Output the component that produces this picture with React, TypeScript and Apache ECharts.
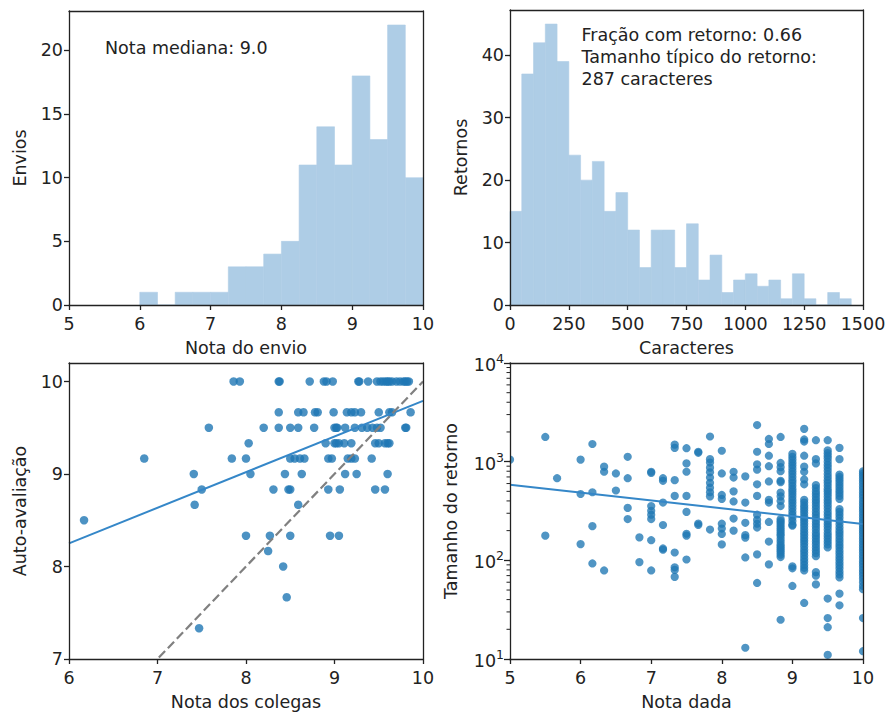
import React, { useEffect, useRef } from 'react';
import * as echarts from 'echarts';

const FONT = '"DejaVu Sans", "Liberation Sans", sans-serif';
const INK = '#222222';
const HIST_FILL = '#aecde6';
const C0 = '#1f77b4';
const DOT = 'rgba(31,119,180,0.78)';
const FS = 17.5;

// ---- Panel 1: histogram of submission grades
const gradeBinLeft = [6.0, 6.25, 6.5, 6.75, 7.0, 7.25, 7.5, 7.75, 8.0, 8.25, 8.5, 8.75, 9.0, 9.25, 9.5, 9.75];
const gradeBinWidth = 0.25;
const gradeCounts = [1, 0, 1, 1, 1, 3, 3, 4, 5, 11, 14, 11, 18, 13, 22, 10];
const gradeTicksY = [0, 5, 10, 15, 20];

// ---- Panel 2: histogram of feedback lengths
const charBinLeft = [0, 50, 100, 150, 200, 250, 300, 350, 400, 450, 500, 550, 600, 650, 700, 750, 800, 850, 900, 950, 1000, 1050, 1100, 1150, 1200, 1250, 1300, 1350, 1400];
const charBinWidth = 50;
const charCounts = [15, 37, 42, 45, 39, 24, 20, 23, 15, 18, 12, 6, 12, 12, 6, 13, 4, 8, 2, 4, 5, 3, 4, 1, 5, 1, 0, 2, 1];
const charTicksY = [0, 10, 20, 30, 40];

// ---- Panel 3: peer grade vs self assessment
const selfLevels = [10, 9.667, 9.5, 9.333, 9.167, 9, 8.833, 8.667, 8.5, 8.333, 8.167, 8, 7.667, 7.333];
const peerByLevel = [
  [7.86, 7.93, 8.37, 8.38, 8.72, 8.88, 8.91, 8.98, 9.27, 9.28, 9.38, 9.48, 9.52, 9.55, 9.58, 9.6, 9.62, 9.65, 9.7, 9.74, 9.78, 9.8, 9.82, 9.84],
  [8.37, 8.59, 8.65, 8.78, 8.81, 8.99, 9.14, 9.19, 9.23, 9.3, 9.5, 9.62, 9.65, 9.86],
  [7.58, 8.2, 8.37, 8.5, 8.59, 8.77, 9.0, 9.02, 9.03, 9.12, 9.23, 9.31, 9.37, 9.43, 9.48, 9.52, 9.8, 9.81],
  [8.03, 8.9, 9.0, 9.02, 9.05, 9.11, 9.19, 9.46, 9.5, 9.57, 9.6, 9.62],
  [6.85, 7.84, 8.0, 8.5, 8.55, 8.61, 8.66, 8.93, 8.97, 9.15, 9.19, 9.23, 9.42],
  [7.41, 8.05, 8.44, 8.63, 9.12, 9.25, 9.6],
  [7.5, 8.31, 8.48, 8.5, 8.93, 9.06, 9.46, 9.57],
  [7.42, 8.59],
  [6.17],
  [8.0, 8.27, 8.5, 8.95, 9.05],
  [8.25],
  [8.42],
  [8.46],
  [7.47],
];
const selfFitX = [6, 10];
const selfFitY = [8.25, 9.79];
const identityX = [6, 10];
const selfTicksY = [7, 8, 9, 10];

// ---- Panel 4: grade given vs feedback length (log)
const givenGrades = [5, 5.5, 5.667, 6, 6.167, 6.333, 6.5, 6.667, 6.833, 7, 7.167, 7.333, 7.5, 7.667, 7.833, 8, 8.167, 8.333, 8.5, 8.667, 8.833, 9, 9.167, 9.333, 9.5, 9.667, 10];
const lengthsByGrade = [
  [1050],
  [1780, 178],
  [680],
  [1050, 470, 146],
  [1510, 490, 222, 93],
  [890, 790, 79],
  [760, 510],
  [1120, 680, 340, 262],
  [171, 96],
  [790, 770, 355, 318, 290, 262, 160, 79],
  [680, 640, 385, 228, 132, 128],
  [1490, 1380, 650, 450, 120, 85, 80, 68],
  [1370, 960, 790, 450, 310, 186, 178, 102],
  [1260, 1230, 236, 228],
  [1800, 1060, 980, 870, 780, 690, 610, 545, 490, 445, 205],
  [1290, 760, 460, 420, 235, 210, 185, 145],
  [790, 690, 500, 395, 265, 200],
  [710, 385, 240, 180, 170, 107, 13],
  [2350, 1260, 940, 830, 590, 450, 290, 257, 235, 215, 115, 59],
  [1700, 1510, 1150, 900, 630, 410, 385, 245, 155, 91],
  [1780, 970, 880, 800, 640, 620, 485, 445, 400, 355, 262, 250, 240, 228, 216, 205, 195, 185, 177, 165, 155, 145, 138, 132, 126, 120, 114, 108, 25],
  [1200, 1120, 1050, 980, 920, 860, 800, 750, 700, 650, 610, 570, 530, 500, 470, 440, 410, 385, 360, 335, 310, 290, 270, 250, 230, 225, 87, 83, 55],
  [2150, 1680, 1600, 1150, 890, 790, 660, 590, 410, 385, 360, 340, 320, 300, 280, 265, 250, 235, 220, 205, 192, 180, 168, 158, 148, 138, 128, 120, 112, 104, 97, 90, 84, 79, 37],
  [1650, 1060, 960, 580, 540, 500, 470, 440, 410, 385, 360, 335, 310, 290, 270, 250, 235, 220, 205, 190, 178, 166, 155, 145, 135, 126, 118, 110, 76, 70, 57],
  [1650, 1300, 1220, 1150, 1080, 1000, 930, 870, 810, 750, 700, 650, 610, 570, 530, 500, 470, 440, 410, 385, 360, 335, 310, 290, 270, 250, 235, 220, 205, 190, 178, 166, 155, 145, 135, 41, 26, 21, 11],
  [1380, 1060, 740, 700, 660, 620, 580, 545, 510, 480, 450, 420, 330, 310, 290, 270, 250, 232, 215, 200, 188, 176, 164, 153, 143, 134, 125, 117, 109, 102, 95, 89, 83, 77, 72, 67, 46, 35],
  [800, 760, 720, 680, 640, 600, 560, 525, 490, 460, 430, 400, 375, 350, 330, 310, 290, 272, 255, 240, 225, 212, 200, 188, 176, 165, 155, 145, 136, 128, 120, 112, 105, 98, 92, 86, 80, 75, 70, 65, 60, 55, 51, 26, 12],
];
const lengthFitX = [5, 10];
const lengthFitY = [582, 234];
const logMinorTicks = [20, 30, 40, 50, 60, 70, 80, 90, 200, 300, 400, 500, 600, 700, 800, 900, 2000, 3000, 4000, 5000, 6000, 7000, 8000, 9000];

const lineStyle = { color: INK, width: 1.3 };
const plainNumber = (v: number) => String(v);

function mainAxis(gridIndex: number, extra: any) {
  return {
    gridIndex,
    type: 'value',
    z: 5,
    nameLocation: 'middle',
    nameTextStyle: { fontFamily: FONT, fontSize: FS, color: INK },
    axisLine: { show: true, onZero: false, lineStyle },
    axisTick: { show: true, length: 5, inside: false, lineStyle },
    axisLabel: { fontFamily: FONT, fontSize: FS, color: INK, margin: 10, formatter: plainNumber },
    splitLine: { show: false },
    ...extra,
  };
}

function frameAxis(gridIndex: number, position: string) {
  return {
    gridIndex,
    type: 'value',
    position,
    min: 0,
    max: 1,
    z: 5,
    axisLine: { show: true, onZero: false, lineStyle },
    axisTick: { show: false },
    axisLabel: { show: false },
    splitLine: { show: false },
  };
}

function histSeries(idx: number, lefts: number[], width: number, counts: number[]) {
  return {
    type: 'custom',
    xAxisIndex: idx,
    yAxisIndex: idx,
    data: lefts.map((l, i) => [l, l + width, counts[i]]),
    encode: { x: [0, 1], y: 2 },
    renderItem: (_p: any, api: any) => {
      const a = api.coord([api.value(0), api.value(2)]);
      const b = api.coord([api.value(1), 0]);
      return {
        type: 'rect',
        shape: { x: a[0], y: a[1], width: b[0] - a[0], height: b[1] - a[1] },
        style: { fill: HIST_FILL, stroke: HIST_FILL, lineWidth: 0.6 },
      };
    },
  };
}

export default function App() {
  const ref = useRef<HTMLDivElement>(null);
  useEffect(() => {
    if (!ref.current) return;
    const chart = echarts.init(ref.current, null, { renderer: 'svg' });

    const selfData: number[][] = [];
    selfLevels.forEach((y, i) => peerByLevel[i].forEach((x) => selfData.push([x, y])));
    const lengthData: number[][] = [];
    givenGrades.forEach((x, i) => lengthsByGrade[i].forEach((v) => lengthData.push([x, v])));

    const option: any = {
      animation: false,
      backgroundColor: '#ffffff',
      grid: [
        { left: 69, top: 11, width: 354, height: 294, outerBoundsMode: 'none' },
        { left: 510, top: 10, width: 353, height: 295, outerBoundsMode: 'none' },
        { left: 69, top: 363, width: 354, height: 296, outerBoundsMode: 'none' },
        { left: 510, top: 363, width: 353, height: 296, outerBoundsMode: 'none' },
      ],
      xAxis: [
        mainAxis(0, { min: 5, max: 10, interval: 1, name: 'Nota do envio', nameGap: 34 }),
        mainAxis(1, { min: 0, max: 1500, interval: 250, name: 'Caracteres', nameGap: 34 }),
        mainAxis(2, { min: 6, max: 10, interval: 1, name: 'Nota dos colegas', nameGap: 34 }),
        mainAxis(3, { min: 5, max: 10, interval: 1, name: 'Nota dada', nameGap: 34 }),
        frameAxis(0, 'top'),
        frameAxis(1, 'top'),
        frameAxis(2, 'top'),
        frameAxis(3, 'top'),
      ],
      yAxis: [
        mainAxis(0, {
          min: 0, max: 23.1, name: 'Envios', nameGap: 40,
          axisTick: { show: true, length: 5, lineStyle, customValues: gradeTicksY },
          axisLabel: { fontFamily: FONT, fontSize: FS, color: INK, margin: 6, customValues: gradeTicksY, formatter: plainNumber },
        }),
        mainAxis(1, {
          min: 0, max: 47.25, name: 'Retornos', nameGap: 40,
          axisTick: { show: true, length: 5, lineStyle, customValues: charTicksY },
          axisLabel: { fontFamily: FONT, fontSize: FS, color: INK, margin: 6, customValues: charTicksY, formatter: plainNumber },
        }),
        mainAxis(2, {
          min: 7, max: 10.2, name: 'Auto-avaliação', nameGap: 40,
          axisTick: { show: true, length: 5, lineStyle, customValues: selfTicksY },
          axisLabel: { fontFamily: FONT, fontSize: FS, color: INK, margin: 6, customValues: selfTicksY, formatter: plainNumber },
        }),
        mainAxis(3, {
          type: 'log', logBase: 10, min: 10, max: 10000, name: 'Tamanho do retorno', nameGap: 50,
          axisTick: { show: true, length: 6, lineStyle },
          axisLabel: {
            margin: 6,
            formatter: (v: number) => '{b|10}{s|' + Math.round(Math.log10(v)) + '}',
            rich: {
              b: { fontFamily: FONT, fontSize: FS, color: INK, verticalAlign: 'bottom', lineHeight: 22 },
              s: { fontFamily: FONT, fontSize: 12.5, color: INK, verticalAlign: 'top', lineHeight: 12 },
            },
          },
        }),
        frameAxis(0, 'right'),
        frameAxis(1, 'right'),
        frameAxis(2, 'right'),
        frameAxis(3, 'right'),
      ],
      series: [
        histSeries(0, gradeBinLeft, gradeBinWidth, gradeCounts),
        histSeries(1, charBinLeft, charBinWidth, charCounts),
        {
          type: 'scatter',
          xAxisIndex: 2,
          yAxisIndex: 2,
          data: selfData,
          symbol: 'circle',
          symbolSize: 8.5,
          itemStyle: { color: C0, opacity: 0.8 },
          z: 3,
        },
        {
          type: 'line',
          xAxisIndex: 2,
          yAxisIndex: 2,
          data: selfFitX.map((x, i) => [x, selfFitY[i]]),
          showSymbol: false,
          symbol: 'none',
          clip: true,
          lineStyle: { color: '#3587c8', width: 2 },
          z: 4,
        },
        {
          type: 'line',
          xAxisIndex: 2,
          yAxisIndex: 2,
          data: identityX.map((x) => [x, x]),
          showSymbol: false,
          symbol: 'none',
          clip: true,
          lineStyle: { color: '#808080', width: 2.2, type: [9, 4] },
          z: 4,
        },
        {
          type: 'custom',
          xAxisIndex: 3,
          yAxisIndex: 3,
          data: lengthData,
          clip: true,
          encode: { x: 0, y: 1 },
          renderItem: (_p: any, api: any) => {
            const c = api.coord([api.value(0), api.value(1)]);
            return { type: 'circle', shape: { cx: c[0], cy: c[1], r: 4.1 }, style: { fill: DOT } };
          },
          z: 3,
        },
        {
          type: 'line',
          xAxisIndex: 3,
          yAxisIndex: 3,
          data: lengthFitX.map((x, i) => [x, lengthFitY[i]]),
          showSymbol: false,
          symbol: 'none',
          clip: true,
          lineStyle: { color: '#3587c8', width: 2 },
          z: 4,
        },
        {
          type: 'custom',
          xAxisIndex: 3,
          yAxisIndex: 3,
          data: logMinorTicks.map((v) => [5, v]),
          clip: false,
          silent: true,
          encode: { x: 0, y: 1 },
          renderItem: (_p: any, api: any) => {
            const c = api.coord([api.value(0), api.value(1)]);
            return {
              type: 'line',
              shape: { x1: c[0] - 3.5, y1: c[1], x2: c[0], y2: c[1] },
              style: { stroke: INK, lineWidth: 1 },
            };
          },
          z: 6,
        },
      ],
      graphic: [
        {
          type: 'text',
          x: 105,
          y: 48,
          style: { text: 'Nota mediana: 9.0', font: `${FS}px ${FONT}`, fill: INK, verticalAlign: 'middle' },
        },
        {
          type: 'text',
          x: 581.5,
          y: 24.5,
          style: {
            text: 'Fração com retorno: 0.66\nTamanho típico do retorno:\n287 caracteres',
            font: `${FS}px ${FONT}`,
            fill: INK,
            lineHeight: 21.7,
            verticalAlign: 'top',
          },
        },
      ],
    };
    chart.setOption(option);
    return () => chart.dispose();
  }, []);
  return (
    <div
      ref={ref}
      style={{ position: 'fixed', left: 0, top: 0, width: 885, height: 712, background: '#fff' }}
    />
  );
}
